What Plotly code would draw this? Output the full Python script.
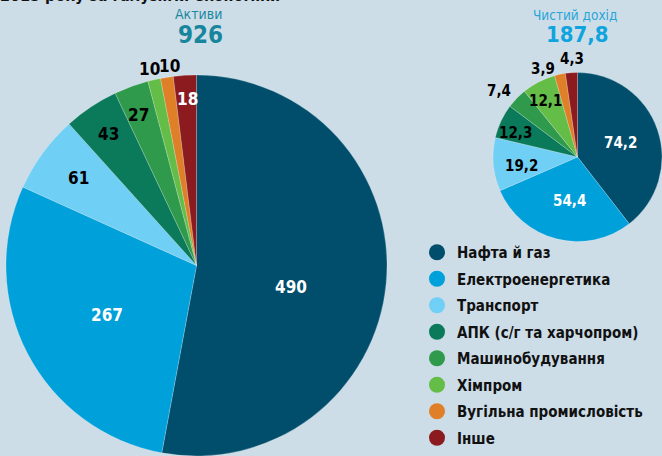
import plotly.graph_objects as go

categories = ["Нафта й газ", "Електроенергетика", "Транспорт", "АПК (с/г та харчопром)",
              "Машинобудування", "Хімпром", "Вугільна промисловість", "Інше"]
assets = [490, 267, 61, 43, 27, 10, 10, 18]
income = [74.2, 54.4, 19.2, 12.3, 7.4, 12.1, 3.9, 4.3]
assets_total = "926"
income_total = "187,8"
colors = ["#004e6c", "#00a0da", "#70cff5", "#0b7a5b", "#2f9a4b", "#63bd47", "#df7f28", "#8c1b1f"]

BG = "#cddde8"
FONT = "DejaVu Sans Condensed, Liberation Sans Narrow, Arial Narrow, sans-serif"
W, H = 662, 456

# label placement (pixel centres) and colours
assets_lbl_pos = [(291, 287), (107, 315), (78, 178), (108, 134), (138, 115), (149, 69), (169, 66), (187, 99)]
assets_txtcol = ["white", "white", "black", "black", "black", "black", "black", "white"]
income_lbl_pos = [(620, 143), (569, 201), (521, 166), (515, 133), (499, 91), (545, 101), (543, 69), (572, 59)]
income_txtcol = ["white", "white", "black", "black", "black", "black", "black", "black"]


def fmt(v):
    return f"{v:g}".replace(".", ",")


def px(x, y):
    return x / W, 1 - y / H


fig = go.Figure()

fig.add_trace(go.Pie(
    labels=categories, values=assets, textinfo="none", sort=False, direction="clockwise",
    marker=dict(colors=colors, line=dict(color="rgba(255,255,255,0.35)", width=0.6)),
    showlegend=False, hoverinfo="label+value",
    domain=dict(x=[6 / W, 387 / W], y=[0, 381 / H]),
))

fig.add_trace(go.Pie(
    labels=categories, values=income, textinfo="none", sort=False, direction="clockwise",
    marker=dict(colors=colors, line=dict(color="rgba(255,255,255,0.35)", width=0.6)),
    showlegend=False, hoverinfo="label+value",
    domain=dict(x=[493 / W, 1.0], y=[1 - 242 / H, 1 - 72 / H]),
))

for i, (c, col) in enumerate(zip(categories, colors)):
    fig.add_trace(go.Scatter(
        x=[None], y=[None], mode="markers", name=c, legendgroup=f"g{i}",
        marker=dict(color=col, size=16, symbol="circle"), hoverinfo="skip",
    ))

annotations = [
    dict(text="2015 року за галузями економіки", x=-2 / W, y=1 + 4 / H,
         xanchor="left", yanchor="middle",
         font=dict(family=FONT, size=16, color="#111111", weight="bold")),
    dict(text="Активи", x=198 / W, y=1 - 14 / H, xanchor="center", yanchor="middle",
         font=dict(family=FONT, size=14, color="#1a889e")),
    dict(text=assets_total, x=200 / W, y=1 - 35 / H, xanchor="center", yanchor="middle",
         font=dict(family=FONT, size=24, color="#17869d", weight="bold")),
    dict(text="Чистий дохід", x=575 / W, y=1 - 15 / H, xanchor="center", yanchor="middle",
         font=dict(family=FONT, size=13.5, color="#27a5d8")),
    dict(text=income_total, x=577 / W, y=1 - 35 / H, xanchor="center", yanchor="middle",
         font=dict(family=FONT, size=22, color="#0fa4de", weight="bold")),
]

for v, (lx, ly), tc in zip(assets, assets_lbl_pos, assets_txtcol):
    ax, ay = px(lx, ly)
    annotations.append(dict(text=fmt(v), x=ax, y=ay, xanchor="center", yanchor="middle",
                            font=dict(family=FONT, size=17, color=tc, weight="bold")))
for v, (lx, ly), tc in zip(income, income_lbl_pos, income_txtcol):
    ax, ay = px(lx, ly)
    annotations.append(dict(text=fmt(v), x=ax, y=ay, xanchor="center", yanchor="middle",
                            font=dict(family=FONT, size=15, color=tc, weight="bold")))

for a in annotations:
    a.update(xref="paper", yref="paper", showarrow=False)

fig.update_layout(
    width=W, height=H, margin=dict(l=0, r=0, t=0, b=0, autoexpand=False),
    paper_bgcolor=BG, plot_bgcolor=BG,
    xaxis=dict(visible=False), yaxis=dict(visible=False),
    showlegend=True,
    legend=dict(x=417 / W, y=1 - 236 / H, xanchor="left", yanchor="top",
                bgcolor="rgba(0,0,0,0)", tracegroupgap=4,
                font=dict(family=FONT, size=15, color="#111111", weight="bold")),
    font=dict(family=FONT),
    annotations=annotations,
)

fig.write_html("out.html", config={"displayModeBar": False},
               post_script="document.body.style.margin='0';document.body.style.overflow='hidden';")
